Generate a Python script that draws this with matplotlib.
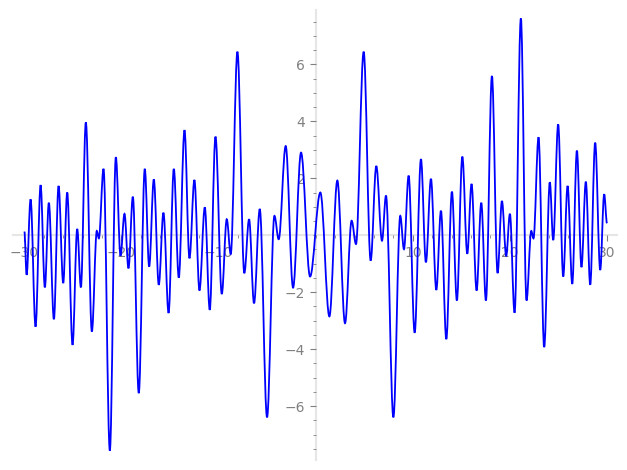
import numpy as np
import matplotlib
matplotlib.use("Agg")
import matplotlib.pyplot as plt
from matplotlib.path import Path
from matplotlib.patches import PathPatch

# local extrema (x, y)
x_pts = [-30.0, -29.77, -29.36, -28.85, -28.33, -27.89, -27.48, -26.96, -26.48, -26.0,
         -25.59, -25.04, -24.56, -24.18, -23.67, -23.05, -22.54, -22.33, -21.85, -21.2,
         -20.58, -20.1, -19.69, -19.28, -18.83, -18.22, -17.6, -17.15, -16.67, -16.16,
         -15.68, -15.15, -14.61, -14.1, -13.51, -13.0, -12.49, -11.97, -11.42, -10.91,
         -10.32, -9.67, -9.16, -8.75, -8.06, -7.35, -6.86, -6.35, -5.76, -5.01,
         -4.25, -3.81, -3.09, -2.33, -1.51, -0.58, 0.48, 1.41, 2.23, 3.02,
         3.70, 4.15, 4.94, 5.66, 6.24, 6.83, 7.24, 8.0, 8.71, 9.09,
         9.57, 10.19, 10.84, 11.35, 11.87, 12.42, 12.9, 13.45, 14.03, 14.54,
         15.1, 15.61, 16.05, 16.57, 17.05, 17.53, 18.15, 18.73, 19.18, 19.62,
         20.0, 20.48, 21.13, 21.71, 22.2, 22.43, 22.95, 23.53, 24.11, 24.46,
         24.97, 25.49, 25.94, 26.42, 26.9, 27.37, 27.82, 28.27, 28.78, 29.3,
         29.71, 30.0]
y_pts = [0.13, -1.39, 1.26, -3.21, 1.76, -1.83, 1.14, -2.95, 1.73, -1.68,
         1.50, -3.85, 0.22, -1.83, 3.96, -3.38, 0.15, -0.11, 2.33, -7.56,
         2.74, -0.72, 0.75, -1.16, 1.35, -5.54, 2.33, -1.10, 1.96, -1.74,
         0.79, -2.73, 2.33, -1.49, 3.69, -0.81, 1.94, -1.94, 0.98, -2.62,
         3.46, -2.06, 0.56, -0.66, 6.44, -1.33, 0.56, -2.39, 0.92, -6.39,
         0.68, -0.14, 3.13, -1.84, 2.90, -1.45, 1.50, -2.85, 1.92, -3.09,
         0.51, -0.31, 6.44, -0.89, 2.43, -0.19, 1.39, -6.39, 0.68, -0.49,
         2.09, -3.42, 2.67, -0.95, 1.98, -1.92, 0.86, -3.65, 1.53, -2.29,
         2.76, -0.65, 1.80, -1.94, 1.14, -2.29, 5.59, -1.33, 1.20, -0.72,
         0.75, -2.72, 7.61, -2.29, 0.15, -0.11, 3.44, -3.93, 1.86, -0.17,
         3.89, -1.45, 1.73, -1.71, 2.97, -1.12, 1.88, -1.74, 3.25, -1.22,
         1.44, 0.42]

x_major = [-30, -20, -10, 10, 20, 30]
y_major = [-6, -4, -2, 2, 4, 6]

fig = plt.figure(figsize=(6.27, 4.70), dpi=100)
ax = fig.add_axes([0.0203, 0.0213, 0.9633, 0.957])

# smooth curve between extrema: cubic bezier with flat tangents at each peak
k = 0.36
verts = [(x_pts[0], y_pts[0])]
codes = [Path.MOVETO]
for i in range(len(x_pts) - 1):
    dx = x_pts[i + 1] - x_pts[i]
    verts += [(x_pts[i] + k * dx, y_pts[i]),
              (x_pts[i + 1] - k * dx, y_pts[i + 1]),
              (x_pts[i + 1], y_pts[i + 1])]
    codes += [Path.CURVE4] * 3
ax.add_patch(PathPatch(Path(verts, codes), fill=False, edgecolor=(0, 0, 1),
                       lw=1.3, zorder=3))

ax.set_xlim(-31.2, 31.0)
ax.set_ylim(-7.89, 7.9)

ax.spines['top'].set_visible(False)
ax.spines['right'].set_visible(False)
ax.spines['left'].set_position(('data', 0))
ax.spines['bottom'].set_position(('data', 0))
for s in ['left', 'bottom']:
    ax.spines[s].set_color('#e6e6e6')
    ax.spines[s].set_linewidth(1.5)
    ax.spines[s].set_zorder(0.5)

ax.set_xticks(x_major)
ax.set_yticks(y_major)
ax.set_xticks(np.arange(-30, 31, 2), minor=True)
ax.set_yticks(np.arange(-7.5, 7.6, 0.5), minor=True)
ax.tick_params(which='both', colors='#808080', labelcolor='#808080', labelsize=10)
ax.tick_params(which='major', length=4, width=0.8)
ax.tick_params(which='minor', length=2, width=0.6)

fig.savefig("out.png", dpi=100)
